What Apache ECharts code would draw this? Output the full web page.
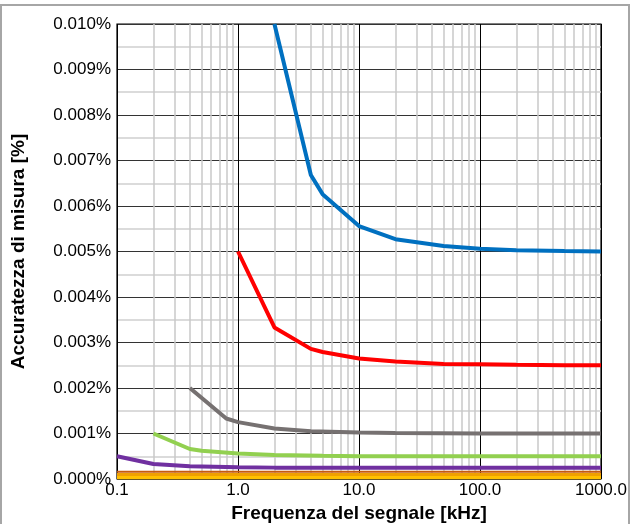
<!DOCTYPE html>
<html>
<head>
<meta charset="utf-8">
<script src="https://cdn.jsdelivr.net/npm/echarts@6/dist/echarts.min.js"></script>
<style>
  html, body { margin: 0; padding: 0; background: #fff; }
  #chart { width: 633px; height: 524px; }
</style>
</head>
<body>
<div id="chart"></div>
<script>
// Accuracy (%) versus signal frequency (kHz), one curve per measuring range
const blueFreq   = [2, 4, 5, 10, 20, 50, 100, 200, 500, 1000];
const blueVals   = [0.0100, 0.00668, 0.00626, 0.00556, 0.00527, 0.00512, 0.00506, 0.00503, 0.00501, 0.00500];

const redFreq    = [1, 2, 4, 5, 10, 20, 50, 100, 200, 500, 1000];
const redVals    = [0.0050, 0.00333, 0.00286, 0.00279, 0.00265, 0.00258, 0.00253, 0.00252, 0.00251, 0.00250, 0.00250];

const grayFreq   = [0.4, 0.8, 1, 2, 4, 10, 20, 100, 1000];
const grayVals   = [0.0020, 0.00133, 0.00125, 0.00111, 0.00105, 0.00102, 0.00101, 0.00100, 0.00100];

const greenFreq  = [0.2, 0.4, 0.5, 1, 2, 5, 10, 100, 1000];
const greenVals  = [0.0010, 0.00066, 0.00062, 0.00056, 0.00053, 0.00051, 0.00050, 0.00050, 0.00050];

const purpleFreq = [0.1, 0.2, 0.4, 1, 2, 10, 100, 1000];
const purpleVals = [0.0005, 0.00033, 0.00028, 0.00026, 0.00025, 0.00025, 0.00025, 0.00025];

const brownFreq  = [0.1, 1000];
const brownVals  = [0.00016, 0.00016];
const orangeFreq = [0.1, 1000];
const orangeVals = [0.00010, 0.00010];
const yellowFreq = [0.1, 1000];
const yellowVals = [0.00004, 0.00004];

const xTicks = ['0.1', '1.0', '10.0', '100.0', '1000.0'];

function pairs(xs, ys) { return xs.map((x, i) => [x, ys[i]]); }

// Minor vertical grid at 2..9 of each decade
const minorX = [];
for (let d = 0.1; d < 1000; d *= 10) {
  for (let k = 2; k <= 9; k++) minorX.push({ xAxis: +(d * k).toPrecision(3) });
}

const chart = echarts.init(document.getElementById('chart'), null, { renderer: 'canvas' });

function line(name, color, data, width) {
  return {
    name, type: 'line', data, symbol: 'none', smooth: false,
    lineStyle: { color, width: width || 4 }, z: 5, animation: false
  };
}

const FONT = 'Liberation Sans';

chart.setOption({
  animation: false,
  backgroundColor: '#fff',
  textStyle: { fontFamily: FONT },
  graphic: [{
    type: 'rect', shape: { x: 1, y: 5, width: 628, height: 530 },
    style: { fill: 'none', stroke: '#a6a6a6', lineWidth: 2 }, silent: true, z: -1
  }],
  grid: {
    left: 117, right: 32, top: 24, bottom: 45,
    outerBoundsMode: 'none', containLabel: false,
    show: true, borderColor: '#000', borderWidth: 1.2
  },
  xAxis: {
    type: 'log', logBase: 10, min: 0.1, max: 1000,
    name: 'Frequenza del segnale [kHz]', nameLocation: 'middle', nameGap: 21,
    nameTextStyle: { fontSize: 19, fontWeight: 'bold', color: '#000', fontFamily: FONT },
    axisLine: { show: false }, axisTick: { show: false },
    axisLabel: {
      fontSize: 17, color: '#000', margin: 3, fontFamily: FONT,
      formatter: v => {
        const idx = Math.round(Math.log10(v)) + 1;
        return xTicks[idx] !== undefined ? xTicks[idx] : '';
      }
    },
    splitLine: { show: true, lineStyle: { color: '#000', width: 1 } }
  },
  yAxis: {
    type: 'value', min: 0, max: 0.010, interval: 0.001,
    name: 'Accuratezza di misura [%]', nameLocation: 'middle', nameGap: 89, nameRotate: 90,
    nameTextStyle: { fontSize: 19, fontWeight: 'bold', color: '#000', fontFamily: FONT },
    axisLine: { show: false }, axisTick: { show: false },
    axisLabel: { fontSize: 17, color: '#000', margin: 6, fontFamily: FONT, formatter: v => v.toFixed(3) + '%' },
    splitLine: { show: true, lineStyle: { color: '#333', width: 1 } },
    minorTick: { show: false, splitNumber: 2 },
    minorSplitLine: { show: true, lineStyle: { color: '#d0d0d0', width: 1.5 } }
  },
  series: [
    {
      type: 'line', data: [], silent: true, animation: false,
      markLine: {
        silent: true, symbol: 'none', label: { show: false }, animation: false,
        lineStyle: { color: '#c8c8c8', width: 1.5, type: 'solid' },
        data: minorX
      },
      z: 1
    },
    line('yellow', '#ffc000', pairs(yellowFreq, yellowVals), 4),
    line('orange', '#f0a000', pairs(orangeFreq, orangeVals), 3),
    line('brown', '#c55a11', pairs(brownFreq, brownVals), 2),
    line('purple', '#7030a0', pairs(purpleFreq, purpleVals)),
    line('green', '#92d050', pairs(greenFreq, greenVals)),
    line('gray', '#767171', pairs(grayFreq, grayVals)),
    line('red', '#ff0000', pairs(redFreq, redVals)),
    line('blue', '#0070c0', pairs(blueFreq, blueVals))
  ]
});
</script>
</body>
</html>
